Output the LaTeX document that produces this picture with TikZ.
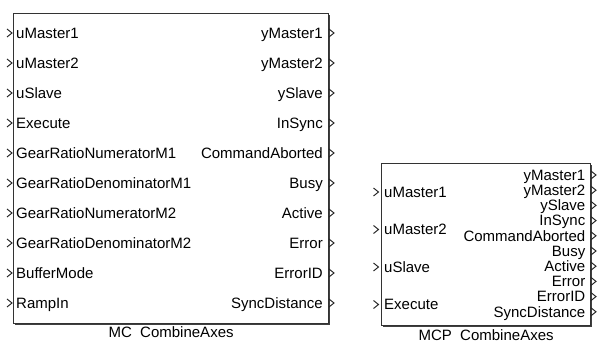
\documentclass[tikz,border=0pt]{standalone}
\usepackage{fontspec}
\setmainfont{Liberation Sans}
\usetikzlibrary{positioning,shadows}
\newcommand\portfont{\fontsize{15}{16}\selectfont}
\tikzset{chevron/.pic={\draw[line width=1pt, black!85] (-2.5,-4) -- (2.5,0) -- (-2.5,4);}}

\begin{document}
\begin{tikzpicture}[x=1pt,y=-1pt,
    block/.style={rectangle, draw=black!80, fill=white, line width=1.2pt,
                  inner sep=0pt, anchor=north west,
                  drop shadow={shadow xshift=1.2pt, shadow yshift=-1.2pt,
                               opacity=1, fill=black!75}},
    inport/.style={anchor=base west, inner sep=0pt, font=\portfont},
    outport/.style={anchor=base east, inner sep=0pt, font=\portfont},
    caption/.style={inner sep=0pt, font=\portfont},
]
\useasboundingbox (0,0) rectangle (598,342);

% MC block
\node[block, minimum width=315pt, minimum height=310pt] (mc) at (13,13) {};
\foreach \port [count=\i] in {uMaster1,uMaster2,uSlave,Execute,GearRatioNumeratorM1,
    GearRatioDenominatorM1,GearRatioNumeratorM2,GearRatioDenominatorM2,BufferMode,RampIn}{
  \node[inport] (mcin\i) at (16,{38.3+30*(\i-1)}) {\port};
  \pic at (9.5,{33+30*(\i-1)}) {chevron};
}
\foreach \port [count=\i] in {yMaster1,yMaster2,ySlave,InSync,CommandAborted,
    Busy,Active,Error,ErrorID,SyncDistance}{
  \node[outport] (mcout\i) at (323,{38.3+30*(\i-1)}) {\port};
  \pic at (331.5,{33+30*(\i-1)}) {chevron};
}
\node[caption,below=2pt of mc] (mccap) {MC\ \ CombineAxes};

% MCP block
\node[block, minimum width=209pt, minimum height=162pt] (mcp) at (381,163) {};
\foreach \port [count=\i] in {uMaster1,uMaster2,uSlave,Execute}{
  \node[inport] (mcpin\i) at (384,{197.3+37.5*(\i-1)}) {\port};
  \pic at (376,{192+37.5*(\i-1)}) {chevron};
}
\foreach \port [count=\i] in {yMaster1,yMaster2,ySlave,InSync,CommandAborted,
    Busy,Active,Error,ErrorID,SyncDistance}{
  \node[outport] (mcpout\i) at (585.5,{180.3+15.2*(\i-1)}) {\port};
  \pic at (593.5,{175+15.2*(\i-1)}) {chevron};
}
\node[caption,below=3pt of mcp] (mcpcap) {MCP\ \ CombineAxes};

\end{tikzpicture}
\end{document}
